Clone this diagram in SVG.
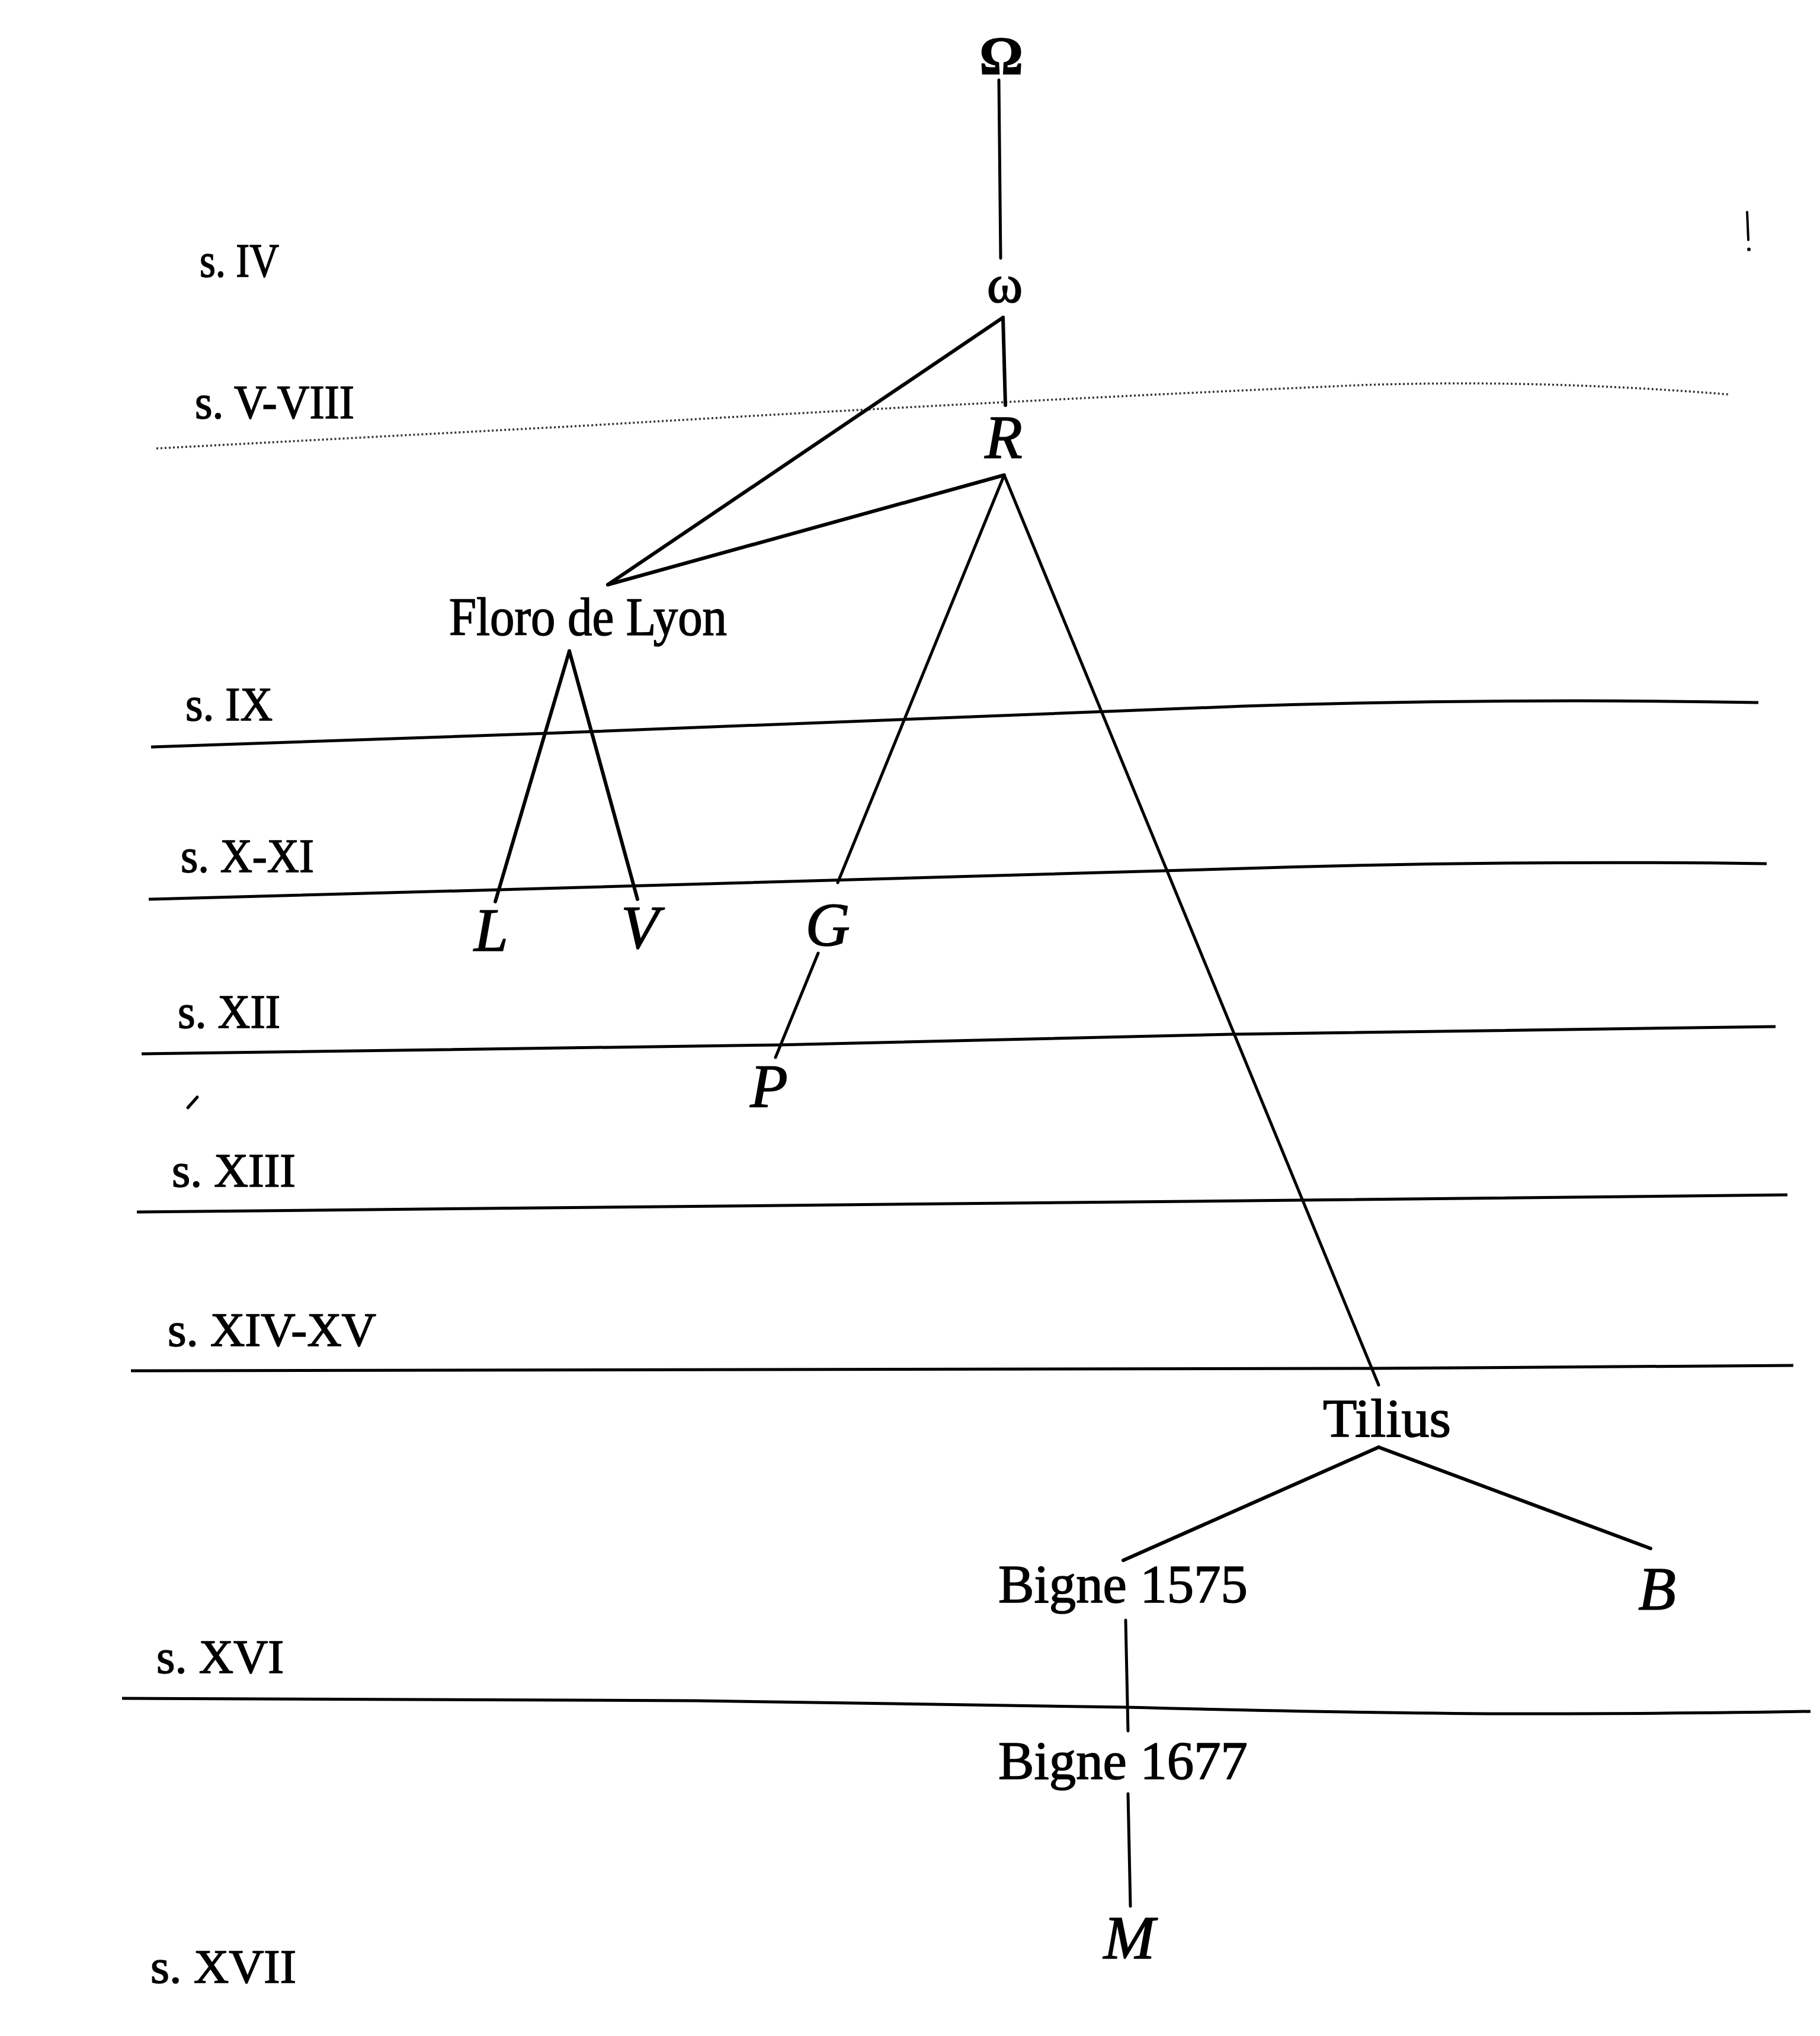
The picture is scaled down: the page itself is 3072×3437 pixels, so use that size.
<svg xmlns="http://www.w3.org/2000/svg" width="3072" height="3437" viewBox="0 0 3072 3437">
<style>
  .lbl { font-family: "Liberation Serif", "DejaVu Serif", serif; fill: #000; stroke: #000; stroke-width: 1.6; }
  .node { font-size: 92px; }
  .sig { font-size: 104px; font-style: italic; text-anchor: middle; }
  .cent { font-size: 80px; }
  .edge { stroke: #000; stroke-width: 6; fill: none; stroke-linecap: round; }
  .thin { stroke: #000; stroke-width: 5; fill: none; stroke-linecap: round; }
  .rule { stroke: #000; stroke-width: 5; fill: none; stroke-linecap: butt; }
</style>
<rect width="3072" height="3437" fill="#fff"/>

<g id="century-rules">
  <path d="M 264 757 L 980 719 Q 1700 676 2300 650 Q 2600 640 2920 666" fill="none" stroke="#333" stroke-width="3.5" stroke-dasharray="3 4"/>
  <path class="rule" d="M 255 1261 L 921 1238 Q 1600 1212 2100 1192 Q 2550 1178 2968 1186"/>
  <path class="rule" d="M 251 1518 L 842 1502 Q 1500 1485 2100 1466 Q 2550 1452 2982 1458"/>
  <path class="rule" d="M 239 1779 L 1313 1764 L 2077 1746 L 2997 1733"/>
  <path class="rule" d="M 231 2046 L 2194 2026 L 3017 2017"/>
  <path class="rule" d="M 221 2314 L 2312 2310 L 3027 2305"/>
  <path class="rule" stroke-width="6.5" d="M 206 2867 Q 700 2868 1175 2871 Q 1600 2876 1900 2882 Q 2300 2892 2547 2893 Q 2850 2893 3056 2889"/>
</g>

<g id="century-labels">
  <text class="lbl cent" x="337" y="467" font-size="60" fill="#333" stroke="#333" stroke-width="0.8" textLength="134" lengthAdjust="spacingAndGlyphs">s. IV</text>
  <text class="lbl cent" x="329" y="706" font-size="70" fill="#333" stroke="#333" stroke-width="0.8" textLength="269" lengthAdjust="spacingAndGlyphs">s. V-VIII</text>
  <text class="lbl cent" x="313" y="1216" textLength="147" lengthAdjust="spacingAndGlyphs">s. IX</text>
  <text class="lbl cent" x="305" y="1472" textLength="225" lengthAdjust="spacingAndGlyphs">s. X-XI</text>
  <text class="lbl cent" x="300" y="1735" textLength="173" lengthAdjust="spacingAndGlyphs">s. XII</text>
  <text class="lbl cent" x="290" y="2003" textLength="209" lengthAdjust="spacingAndGlyphs">s. XIII</text>
  <text class="lbl cent" x="283" y="2272" textLength="352" lengthAdjust="spacingAndGlyphs">s. XIV-XV</text>
  <text class="lbl cent" x="264" y="2824" textLength="215" lengthAdjust="spacingAndGlyphs">s. XVI</text>
  <text class="lbl cent" x="254" y="3347" textLength="246" lengthAdjust="spacingAndGlyphs">s. XVII</text>
</g>

<g id="connectors">
  <line class="thin" x1="1686" y1="135" x2="1689" y2="436"/>
  <line class="edge" x1="1693" y1="536" x2="1697" y2="684"/>
  <line class="edge" x1="1693" y1="536" x2="1026" y2="987"/>
  <line class="edge" x1="1695" y1="802" x2="1026" y2="987"/>
  <line class="thin" x1="1695" y1="802" x2="1414" y2="1490"/>
  <line class="thin" x1="1695" y1="802" x2="2327" y2="2338"/>
  <line class="edge" x1="961" y1="1099" x2="836" y2="1522"/>
  <line class="edge" x1="961" y1="1099" x2="1076" y2="1518"/>
  <line class="thin" x1="1381" y1="1609" x2="1309" y2="1785"/>
  <line class="edge" x1="2327" y1="2443" x2="1896" y2="2634"/>
  <line class="edge" x1="2327" y1="2443" x2="2786" y2="2614"/>
  <line class="thin" x1="1900" y1="2735" x2="1904" y2="2922"/>
  <line class="thin" x1="1904" y1="3028" x2="1908" y2="3218"/>
</g>

<g id="node-Omega"><text class="lbl node" x="1690" y="125" text-anchor="middle" font-size="86" font-weight="bold">Ω</text></g>
<g id="node-omega"><text class="lbl node" x="1696" y="510" text-anchor="middle" font-size="90">ω</text></g>
<g id="node-R"><text class="lbl sig" x="1694" y="773" font-size="92">R</text></g>
<g id="node-Floro"><text class="lbl node" x="758" y="1072" textLength="469" lengthAdjust="spacingAndGlyphs">Floro de Lyon</text></g>
<g id="node-L"><text class="lbl sig" x="829" y="1605">L</text></g>
<g id="node-V"><text class="lbl sig" x="1080" y="1600">V</text></g>
<g id="node-G"><text class="lbl sig" x="1397" y="1596">G</text></g>
<g id="node-P"><text class="lbl sig" x="1298" y="1869">P</text></g>
<g id="node-Tilius"><text class="lbl node" x="2233" y="2425" textLength="216" lengthAdjust="spacingAndGlyphs">Tilius</text></g>
<g id="node-Bigne1575"><text class="lbl node" x="1685" y="2705" textLength="421" lengthAdjust="spacingAndGlyphs">Bigne 1575</text></g>
<g id="node-B"><text class="lbl sig" x="2797" y="2717" font-size="100">B</text></g>
<g id="node-Bigne1677"><text class="lbl node" x="1685" y="3003" textLength="421" lengthAdjust="spacingAndGlyphs">Bigne 1677</text></g>
<g id="node-M"><text class="lbl sig" x="1906" y="3306">M</text></g>

<g id="marks">
  <line x1="2949" y1="358" x2="2951" y2="405" stroke="#000" stroke-width="4" stroke-linecap="round"/>
  <circle cx="2952" cy="421" r="3" fill="#000"/>
  <line x1="317" y1="1870" x2="333" y2="1852" stroke="#000" stroke-width="5" stroke-linecap="round"/>
</g>
</svg>
